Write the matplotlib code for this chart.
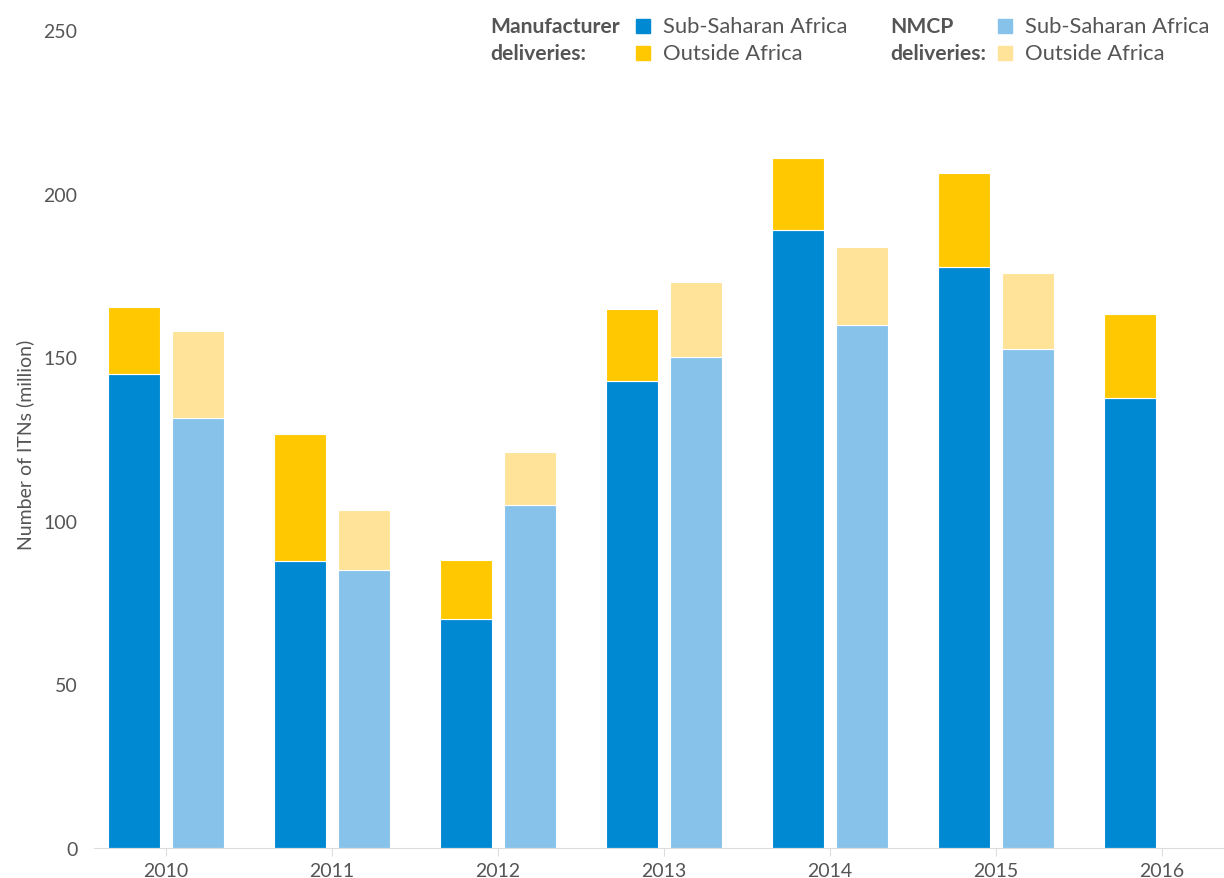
import numpy as np
import matplotlib.pyplot as plt
from matplotlib.patches import Rectangle

plt.rcParams['font.family'] = ['Lato', 'DejaVu Sans']

years = ['2010', '2011', '2012', '2013', '2014', '2015', '2016']
manuf_ssa = [145, 87.7, 70, 142.7, 188.9, 177.6, 137.5]
manuf_out = [20.3, 38.8, 18, 22, 22, 28.7, 25.7]
nmcp_ssa = [131.4, 85, 104.8, 150, 159.8, 152.5]
nmcp_out = [26.6, 18.3, 16.2, 23, 23.9, 23.2]

c_mssa = '#0089D3'
c_mout = '#FFC800'
c_nssa = '#86C2EA'
c_nout = '#FFE399'
txt = '#555555'

fig = plt.figure(figsize=(12.24, 8.79), dpi=100)
ax = fig.add_axes([94/1224, 1-849/879, 1-94/1224, (849-31)/879])

x = np.arange(len(years))
w = 0.313
off = 0.193
ax.bar(x-off, manuf_ssa, w, color=c_mssa, edgecolor='white', linewidth=0.8)
ax.bar(x-off, manuf_out, w, bottom=manuf_ssa, color=c_mout, edgecolor='white', linewidth=0.8)
xn = x[:len(nmcp_ssa)]
ax.bar(xn+off, nmcp_ssa, w, color=c_nssa, edgecolor='white', linewidth=0.8)
ax.bar(xn+off, nmcp_out, w, bottom=nmcp_ssa, color=c_nout, edgecolor='white', linewidth=0.8)

ax.set_xlim(-0.434, 6.373)
ax.set_ylim(0, 250)
ax.set_yticks(range(0, 251, 50))
ax.set_xticks(x)
ax.set_xticklabels(years)
for s in ['top', 'right', 'left']:
    ax.spines[s].set_visible(False)
ax.spines['bottom'].set_color('#dddddd')
ax.tick_params(axis='y', length=0, pad=12, labelsize=14, labelcolor=txt)
ax.tick_params(axis='x', length=6, color='#dddddd', pad=4, labelsize=14, labelcolor=txt)
fig.text(25/1224, 1-445/879, 'Number of ITNs (million)', fontsize=14, color=txt,
         rotation=90, ha='center', va='center')

# legend
def fy(p):
    return 1 - p/879
def fx(p):
    return p/1224
fs = 15.8
fig.text(fx(490), fy(27), 'Manufacturer', fontsize=15.2, color=txt, fontweight='bold', va='center')
fig.text(fx(490), fy(54), 'deliveries:', fontsize=15.2, color=txt, fontweight='bold', va='center')
fig.text(fx(890), fy(27), 'NMCP', fontsize=15.2, color=txt, fontweight='bold', va='center')
fig.text(fx(890), fy(54), 'deliveries:', fontsize=15.2, color=txt, fontweight='bold', va='center')
items = [(636, 27, c_mssa, 'Sub-Saharan Africa'), (636, 54, c_mout, 'Outside Africa'),
         (998, 27, c_nssa, 'Sub-Saharan Africa'), (998, 54, c_nout, 'Outside Africa')]
for px, py, c, lab in items:
    fig.patches.append(Rectangle((fx(px), fy(py+7)), 14/1224, 14/879, color=c, transform=fig.transFigure))
    fig.text(fx(px+27), fy(py), lab, fontsize=fs, color=txt, va='center')

fig.savefig('out.png', dpi=100)
